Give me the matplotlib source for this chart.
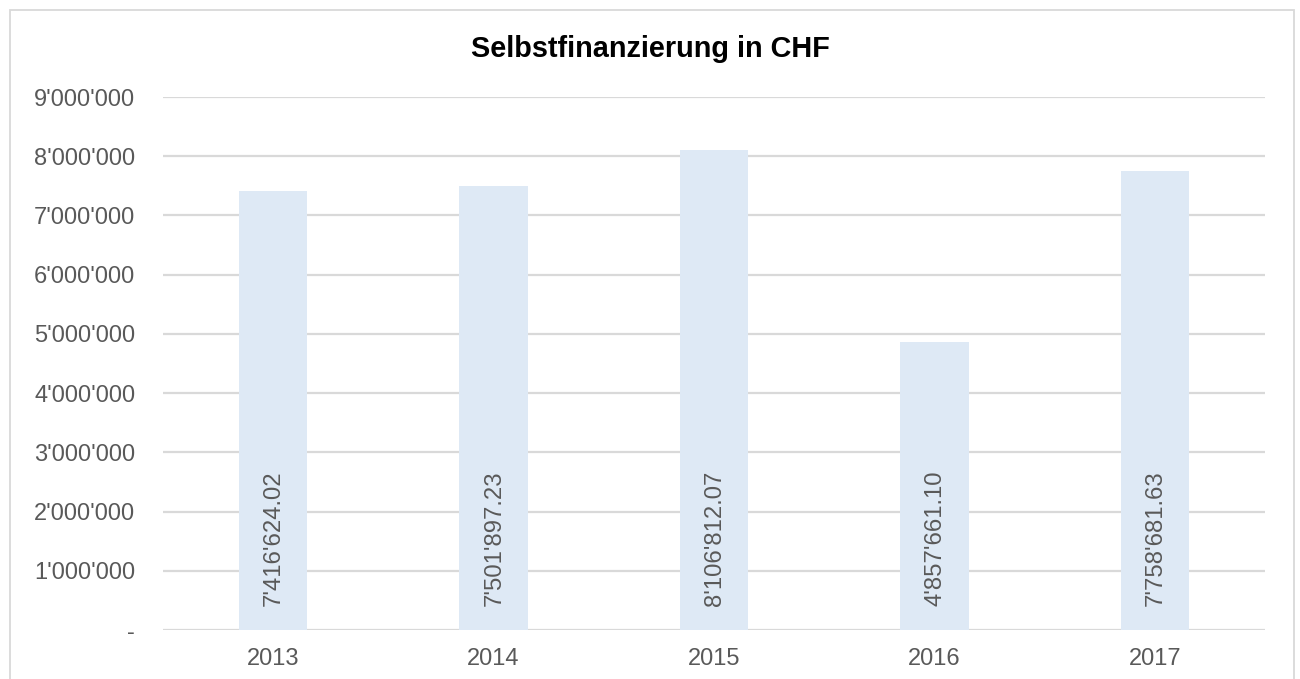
import matplotlib
matplotlib.use("Agg")
import matplotlib.pyplot as plt
from matplotlib.patches import Rectangle

years = ["2013", "2014", "2015", "2016", "2017"]
values = [7416624.02, 7501897.23, 8106812.07, 4857661.10, 7758681.63]
value_labels = ["7'416'624.02", "7'501'897.23", "8'106'812.07", "4'857'661.10", "7'758'681.63"]
yticks = [0, 1000000, 2000000, 3000000, 4000000, 5000000, 6000000, 7000000, 8000000, 9000000]
ytick_labels = ["-", "1'000'000", "2'000'000", "3'000'000", "4'000'000", "5'000'000",
                "6'000'000", "7'000'000", "8'000'000", "9'000'000"]
title = "Selbstfinanzierung in CHF"

plt.rcParams['font.family'] = ['Liberation Sans', 'DejaVu Sans']
TEXT = "#595959"
GRID = "#d9d9d9"
BAR = "#dee9f5"

fig = plt.figure(figsize=(13, 6.79), dpi=100)
fig.patch.set_facecolor("white")
W, H = 1300, 679
# outer chart border
fig.patches.append(Rectangle((9.5 / W, -0.05), (1294 - 9.5) / W, 1 - 9.5 / H + 0.05,
                             transform=fig.transFigure, fill=False, edgecolor=GRID, lw=1.3))

ax = fig.add_axes([163 / W, 1 - 630 / H, (1265 - 163) / W, (630 - 97) / H])
x = list(range(len(years)))
ax.bar(x, values, width=0.31, color=BAR, zorder=2)
ax.set_xlim(-0.5, len(years) - 0.5)
ax.set_ylim(0, 9000000)
ax.set_yticks(yticks)
ax.set_yticklabels(ytick_labels)
ax.set_xticks(x)
ax.set_xticklabels(years)
ax.tick_params(axis='both', length=0, labelsize=17, colors=TEXT)
ax.tick_params(axis='y', pad=20)
ax.tick_params(axis='x', pad=13)
for s in ax.spines.values():
    s.set_visible(False)
ax.yaxis.grid(True, color=GRID, lw=1.6, zorder=0)
ax.set_axisbelow(True)

for xi, lab in zip(x, value_labels):
    ax.annotate(lab, xy=(xi, 0), xytext=(0.5, 17.5), textcoords='offset points',
                rotation=90, ha='center', va='bottom', fontsize=17.2, color=TEXT, zorder=3)

fig.text(650 / W, 1 - 57 / H, title, ha='center', va='baseline', fontsize=20.8,
         fontweight='bold', color='black')

fig.savefig("out.png", dpi=100, facecolor="white")
